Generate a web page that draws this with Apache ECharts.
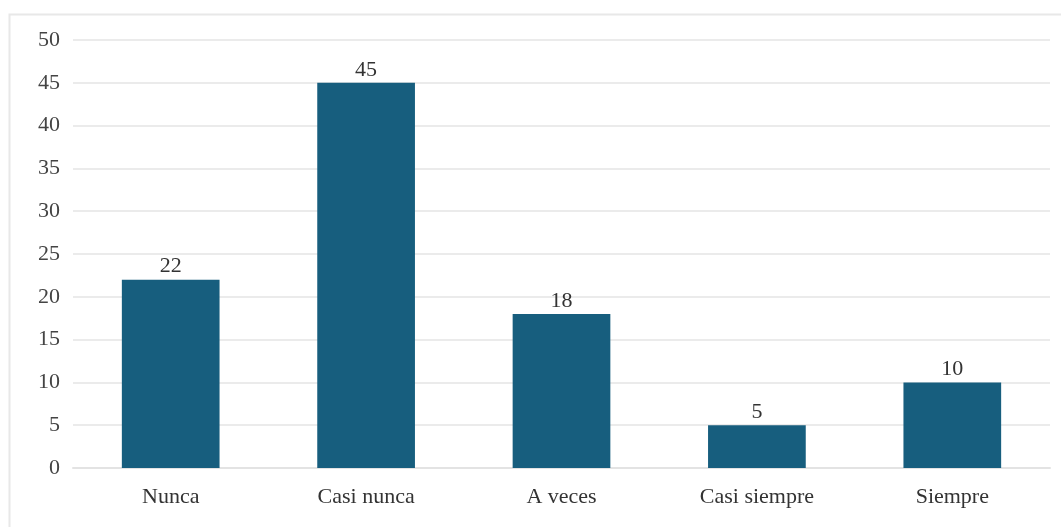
<!DOCTYPE html>
<html>
<head>
<meta charset="utf-8">
<script src="https://cdn.jsdelivr.net/npm/echarts@6/dist/echarts.min.js"></script>
<style>
  html,body{margin:0;padding:0;background:#fff;}
  #chart{width:1061px;height:527px;}
</style>
</head>
<body>
<div id="chart"></div>
<script>
// categorias y frecuencias
var categorias = ['Nunca', 'Casi nunca', 'A veces', 'Casi siempre', 'Siempre'];
var valores = [22, 45, 18, 5, 10];
var ticksY = [0, 5, 10, 15, 20, 25, 30, 35, 40, 45, 50];

var dom = document.getElementById('chart');
var myChart = echarts.init(dom);
var fuente = '"Liberation Serif", "DejaVu Serif", serif';

var option = {
    animation: false,
    graphic: [{
        type: 'rect',
        shape: { x: 9.5, y: 14.5, width: 1060, height: 520 },
        style: { fill: 'none', stroke: '#e8e8e8', lineWidth: 2 }
    }],
    grid: { left: 73, right: 11, top: 40, bottom: 59 },
    xAxis: {
        type: 'category',
        data: categorias,
        axisTick: { show: false },
        axisLine: { lineStyle: { color: '#e3e3e3', width: 2 } },
        axisLabel: { color: '#333', fontFamily: fuente, fontSize: 22, margin: 18 }
    },
    yAxis: {
        type: 'value',
        min: ticksY[0],
        max: ticksY[ticksY.length - 1],
        interval: 5,
        axisLine: { show: false },
        axisTick: { show: false },
        splitLine: { lineStyle: { color: '#ebebeb', width: 2 } },
        axisLabel: { color: '#444', fontFamily: fuente, fontSize: 22, margin: 13 }
    },
    series: [{
        type: 'bar',
        data: valores,
        barWidth: '50%',
        itemStyle: { color: '#175e7e' },
        label: {
            show: true,
            position: 'top',
            distance: 2,
            color: '#333',
            fontFamily: fuente,
            fontSize: 22
        }
    }]
};
myChart.setOption(option);
</script>
</body>
</html>
